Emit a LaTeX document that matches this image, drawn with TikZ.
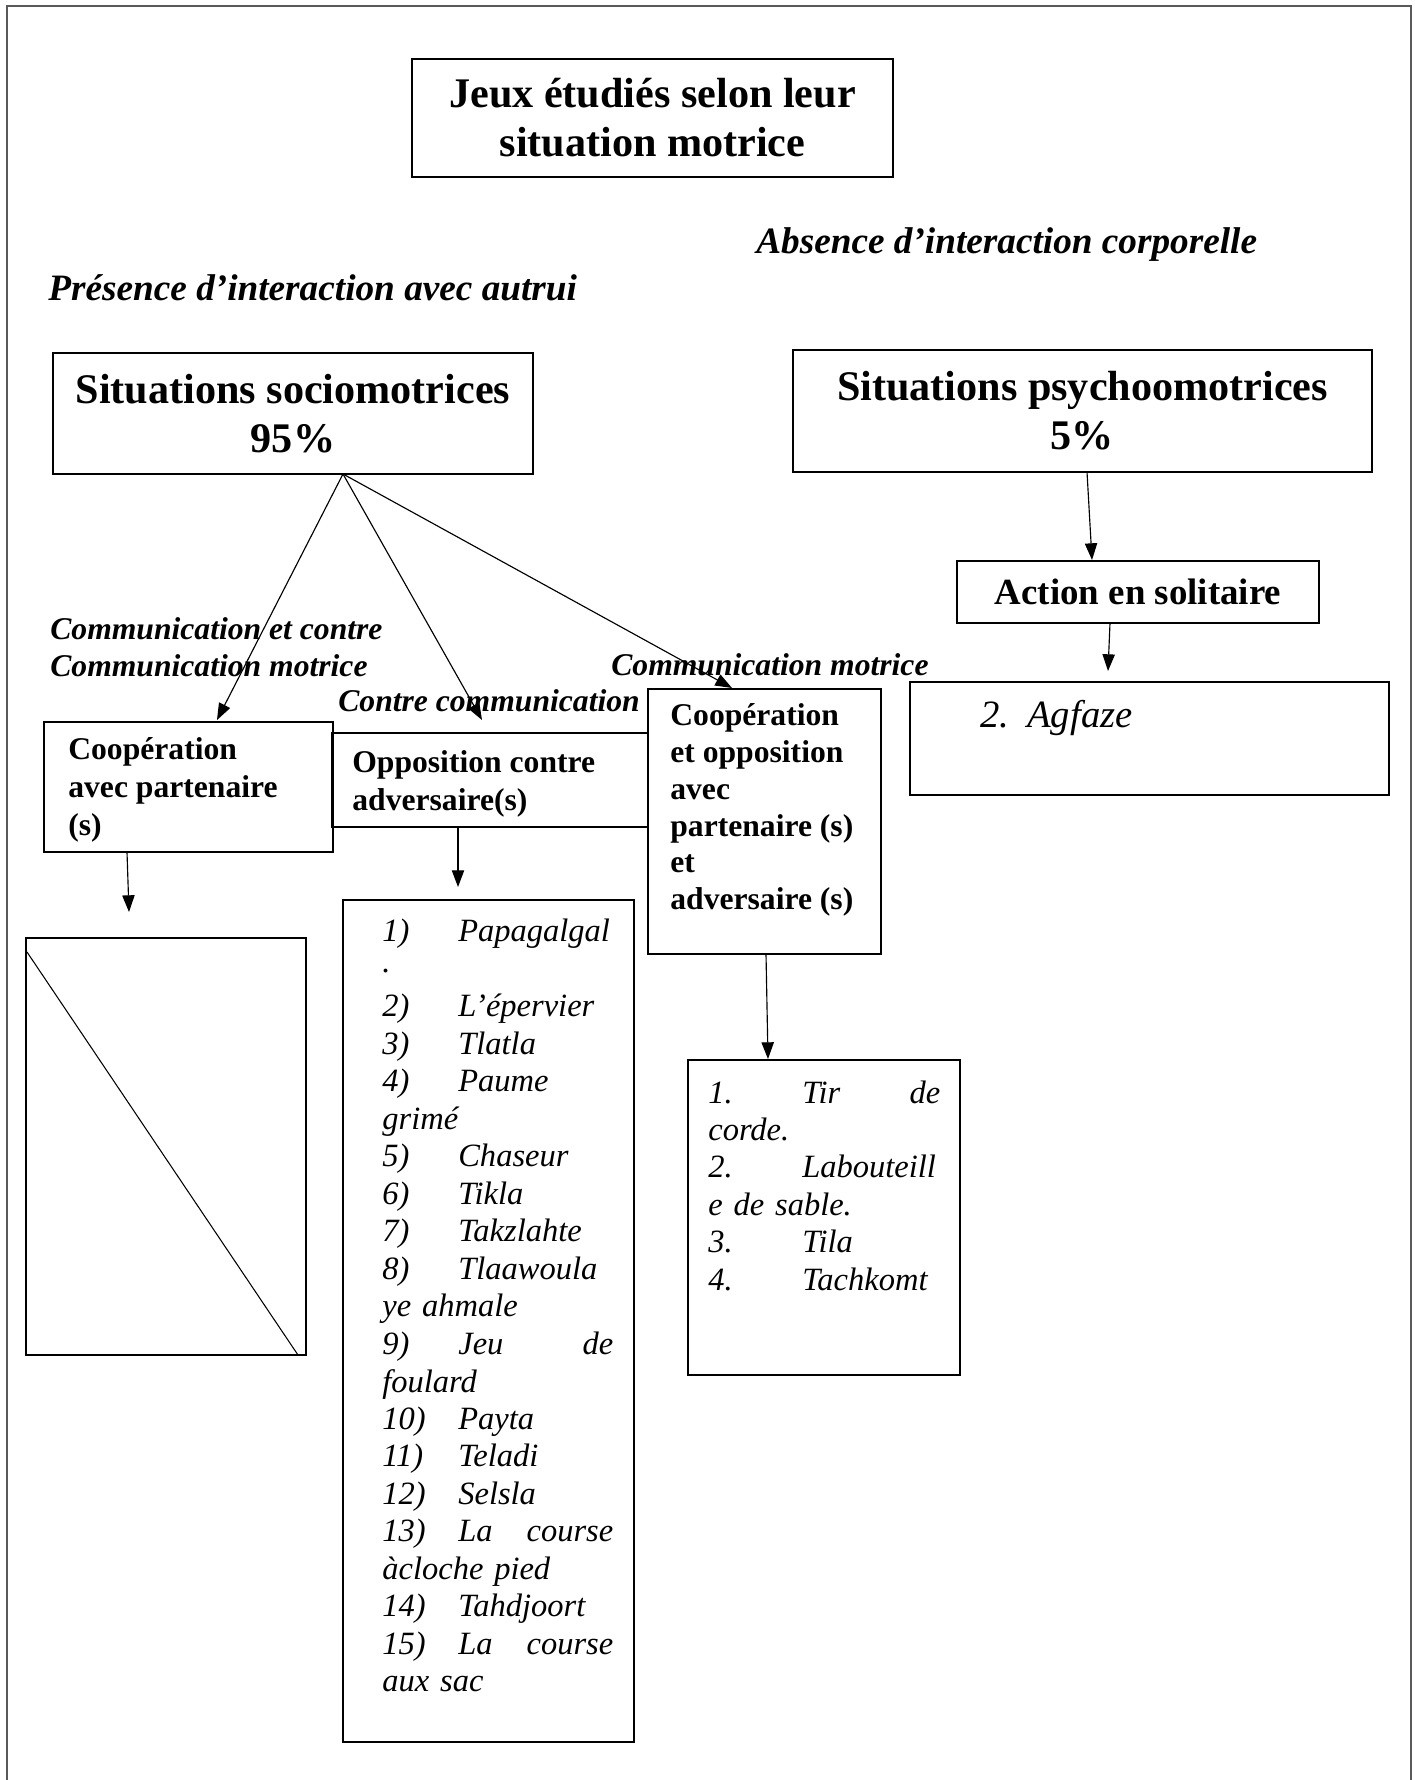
\documentclass[tikz,border=0pt]{standalone}
\usepackage{fontspec}
\setmainfont{Liberation Serif}
\usetikzlibrary{arrows.meta}
\usetikzlibrary{fit}

\newcommand{\fsz}[2]{\fontsize{#1}{#2}\selectfont}
\newcommand{\gnum}[2][1.52cm]{\makebox[#1][l]{#2}}
\newcommand{\spread}{\hskip 0pt plus 1filll}

\begin{document}
\begin{tikzpicture}[x=0.02cm,y=-0.02cm,
  box/.style={draw=black,line width=1pt,inner sep=0pt},
  conn/.style={line width=0.65pt,-{Triangle[length=9.5pt,width=7pt]}},
  head/.style={font=\bfseries\fsz{24}{27.9},align=center,inner sep=0pt},
  tag/.style={font=\bfseries\itshape\fsz{21.2}{25},anchor=west,inner sep=0pt},
  lbl/.style={font=\bfseries\itshape\fsz{18}{21},anchor=west,align=left,inner sep=0pt},
  boxtxt/.style={font=\bfseries\fsz{18}{21.6},anchor=west,align=left,inner sep=0pt},
  listline/.style={font=\itshape\fsz{18.5}{21.3},anchor=west,align=left,inner sep=0pt}]

\useasboundingbox (0,0) rectangle (1414,1780);
% page frame, open at the bottom
\draw[black!65,line width=1.2pt] (7,1780) -- (7,6) -- (1411,6) -- (1411,1780);

% boxes
\node[box,fit={(412,59) (893,177)}] (title) {};
\node[box,fit={(53,353) (533,474)}] (socio) {};
\node[box,fit={(793,350) (1372,472)}] (psycho) {};
\node[box,fit={(957,561) (1319,623)}] (action) {};
\node[box,fit={(910,682) (1389,795)}] (agfaze) {};
\node[box,fit={(44,722) (333,852)}] (coop) {};
\node[box,fit={(332,733) (648,827)}] (oppo) {};
\node[box,fit={(648,689) (881,954)}] (coopopp) {};
\node[box,fit={(26,938) (306,1355)}] (blank) {};
\node[box,fit={(343,900) (634,1742)}] (opplist) {};
\node[box,fit={(688,1060) (960,1375)}] (mixlist) {};
\draw[line width=0.6pt] (27,952) -- (298,1355);

% centred titles
\node[head] (titletext) at (title) {Jeux étudiés selon leur\\situation motrice};
\node[head] (sociotext) at (socio) {Situations sociomotrices\\95\%};
\node[head] (psychotext) at (psycho) {Situations psychoomotrices\\5\%};
\node[font=\bfseries\fsz{21}{25},inner sep=0pt] (actiontext) at (action) {Action en solitaire};

% headings in italics
\node[tag] (absent) at (756,245) {Absence d’interaction corporelle};
\node[tag] (present) at (48,288) {Présence d’interaction avec autrui};
\node[lbl] (lcoop) at (50,647) {Communication et contre\\Communication motrice};
\node[lbl] (loppo) at (338,701) {Contre communication};
\node[lbl] (lmix) at (611,665) {Communication motrice};

% text of the three kinds of situation
\node[boxtxt] (tcoop) at (68,790) {Coopération\\avec partenaire\\(s)};
\node[boxtxt] (toppo) at (352,784) {Opposition contre\\adversaire(s)};
\node[boxtxt,font=\bfseries\fsz{18}{21}] (tmix) at (670,810) {Coopération\\et opposition\\avec\\partenaire (s)\\et\\adversaire (s)};
\node[font=\itshape\fsz{22}{26},anchor=west,inner sep=0pt] (tagf) at (980,718) {\gnum[0.94cm]{2.}Agfaze};

% games
\foreach \t [count=\i] in {\gnum{1)}Papagalgal, ., \gnum{2)}L’épervier, \gnum{3)}Tlatla,
  \gnum{4)}Paume, grimé, \gnum{5)}Chaseur, \gnum{6)}Tikla, \gnum{7)}Takzlahte,
  \gnum{8)}Tlaawoula, ye ahmale, \gnum{9)}Jeu\spread de, foulard, \gnum{10)}Payta,
  \gnum{11)}Teladi, \gnum{12)}Selsla, \gnum{13)}La\spread course, àcloche pied,
  \gnum{14)}Tahdjoort, \gnum{15)}La\spread course, aux sac}
  \node[listline,text width=4.62cm] (opp\i) at (382,{934+37.5*(\i-1)}) {\t};

\foreach \t [count=\i] in {\gnum[1.88cm]{1.}Tir\spread de, corde., \gnum[1.88cm]{2.}Labouteill,
  e de sable., \gnum[1.88cm]{3.}Tila, \gnum[1.88cm]{4.}Tachkomt}
  \node[listline,text width=4.64cm] (mix\i) at (708,{1092+37.4*(\i-1)}) {\t};

% arrows
\coordinate (fork) at (343,474);
\coordinate (coopin) at (217,720);
\coordinate (oppoin) at (482,720);
\coordinate (mixin) at (732,688);
\coordinate (psyout) at (1087,472);
\coordinate (actin) at (1092,560);
\coordinate (actout) at (1110,623);
\coordinate (agfin) at (1108,671);
\coordinate (coopout) at (127,852);
\coordinate (blankin) at (129,912);
\coordinate (oppoout) at (458,827);
\coordinate (opplin) at (458,887);
\coordinate (mixout) at (766,954);
\coordinate (mixlin) at (768,1059);
\draw[conn] (fork) -- (coopin);
\draw[conn] (fork) -- (oppoin);
\draw[conn] (fork) -- (mixin);
\draw[conn] (psyout) -- (actin);
\draw[conn] (actout) -- (agfin);
\draw[conn] (coopout) -- (blankin);
\draw[conn] (oppoout) -- (opplin);
\draw[conn] (mixout) -- (mixlin);

\end{tikzpicture}
\end{document}
